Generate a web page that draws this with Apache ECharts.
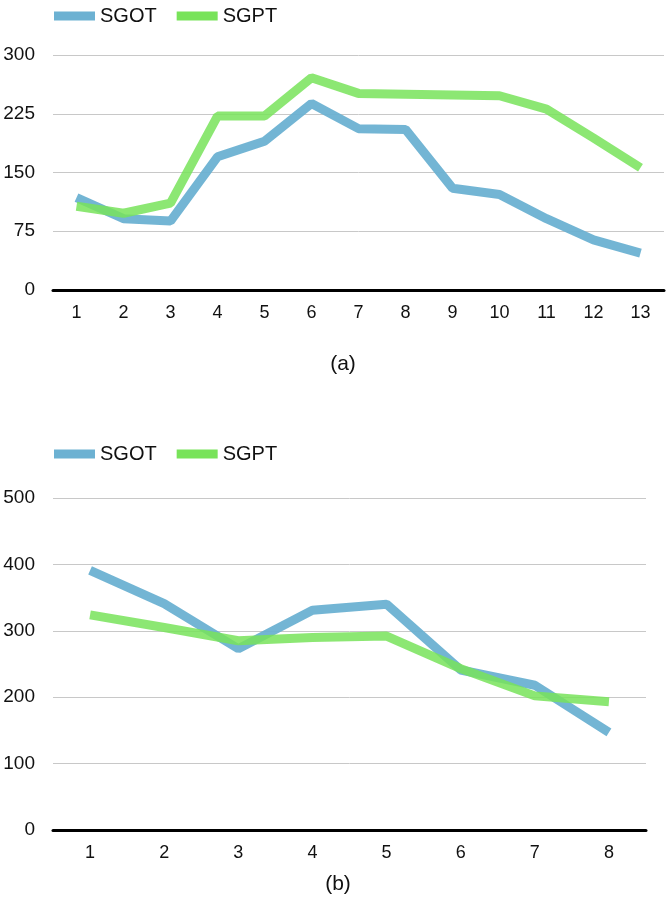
<!DOCTYPE html>
<html>
<head>
<meta charset="utf-8">
<script src="https://cdn.jsdelivr.net/npm/echarts@6/dist/echarts.min.js"></script>
<style>html,body{margin:0;padding:0;background:#fff}#c{width:666px;height:918px}</style>
</head>
<body>
<div id="c"></div>
<script>
const catsA = ['1','2','3','4','5','6','7','8','9','10','11','12','13'];
const sgotA = [118, 91, 88, 170, 190, 238, 206, 205, 130, 122, 91, 64, 47];
const sgptA = [107, 98, 111, 222, 222, 271, 251, 250, 249, 248, 231, 194, 156];
const catsB = ['1','2','3','4','5','6','7','8'];
const sgotB = [391, 341, 273, 331, 340, 241, 218, 147];
const sgptB = [324, 305, 285, 290, 292, 243, 202, 193];
const seriesNames = ['SGOT', 'SGPT'];
const captions = ['(a)', '(b)'];

const BLUE = '#6cb1d2';
const GREEN = '#78e35a';
const FONT = '"Liberation Sans", Arial, Helvetica, sans-serif';

const chart = echarts.init(document.getElementById('c'), null, {renderer: 'canvas'});

function legend(top) {
  return {
    top: top, left: 49, itemWidth: 41, itemHeight: 9, itemGap: 20,
    icon: 'rect',
    textStyle: {fontSize: 20, color: '#111', fontFamily: FONT},
    data: seriesNames
  };
}
function xAxis(idx, cats) {
  return {
    type: 'category', gridIndex: idx, data: cats, boundaryGap: true,
    axisLine: {lineStyle: {color: '#000', width: 3}},
    axisTick: {show: false},
    axisLabel: {fontSize: 18, color: '#111', margin: 14, fontFamily: FONT}
  };
}
function yAxis(idx, max, interval) {
  return {
    type: 'value', gridIndex: idx, min: 0, max: max, interval: interval,
    axisLine: {show: false}, axisTick: {show: false},
    splitLine: {lineStyle: {color: '#c8c8c8', width: 1}},
    axisLabel: {fontSize: 19, color: '#111', margin: 18, fontFamily: FONT}
  };
}
function line(name, data, idx, color, opacity, z) {
  return {
    name: name, type: 'line', xAxisIndex: idx, yAxisIndex: idx, data: data,
    symbol: 'none', z: z,
    lineStyle: {color: color, width: 9, opacity: opacity},
    itemStyle: {color: color},
    emphasis: {disabled: true}
  };
}

chart.setOption({
  animation: false,
  backgroundColor: '#fff',
  textStyle: {fontFamily: FONT},
  title: [
    {text: captions[0], left: 338, top: 349, textAlign: 'center',
     textStyle: {fontSize: 21, fontWeight: 'normal', color: '#111', fontFamily: FONT}},
    {text: captions[1], left: 333, top: 869, textAlign: 'center',
     textStyle: {fontSize: 21, fontWeight: 'normal', color: '#111', fontFamily: FONT}}
  ],
  legend: [legend(1), legend(439)],
  grid: [
    {left: 53, top: 55, width: 611, height: 235, containLabel: false},
    {left: 53, top: 498, width: 593, height: 332, containLabel: false}
  ],
  xAxis: [xAxis(0, catsA), xAxis(1, catsB)],
  yAxis: [yAxis(0, 300, 75), yAxis(1, 500, 100)],
  series: [
    line(seriesNames[0], sgotA, 0, BLUE, 0.95, 2),
    line(seriesNames[1], sgptA, 0, GREEN, 0.85, 3),
    line(seriesNames[0], sgotB, 1, BLUE, 0.95, 2),
    line(seriesNames[1], sgptB, 1, GREEN, 0.85, 3)
  ]
});
</script>
</body>
</html>
